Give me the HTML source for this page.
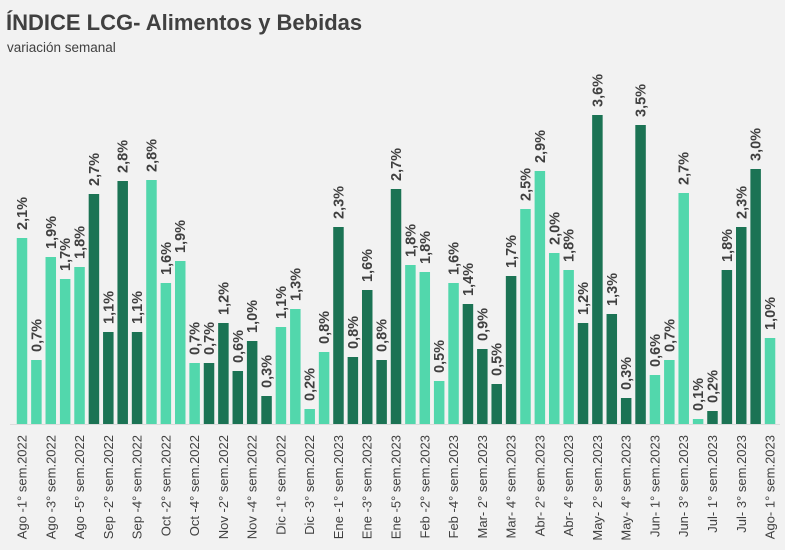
<!DOCTYPE html>
<html>
<head>
<meta charset="utf-8">
<style>
html,body{margin:0;padding:0;background:#f2f2f2;}
svg{display:block;}
</style>
</head>
<body>
<svg width="785" height="550" viewBox="0 0 785 550" xmlns="http://www.w3.org/2000/svg">
<rect x="0" y="0" width="785" height="550" fill="#f2f2f2"/>
<text x="6" y="30" font-family="Liberation Sans, sans-serif" font-weight="bold" font-size="22" fill="#404040">ÍNDICE LCG- Alimentos y Bebidas</text>
<text x="7" y="52" font-family="Liberation Sans, sans-serif" font-size="13.5" fill="#404040">variación semanal</text>
<line x1="10" y1="424.5" x2="780" y2="424.5" stroke="#dcdcdc" stroke-width="1"/>
<g>
<rect x="16.75" y="238" width="10.5" height="186" fill="#52d7ac"/>
<rect x="31.14" y="360" width="10.5" height="64" fill="#52d7ac"/>
<rect x="45.52" y="257" width="10.5" height="167" fill="#52d7ac"/>
<rect x="59.91" y="279" width="10.5" height="145" fill="#52d7ac"/>
<rect x="74.29" y="267" width="10.5" height="157" fill="#52d7ac"/>
<rect x="88.68" y="194" width="10.5" height="230" fill="#1b7354"/>
<rect x="103.06" y="332" width="10.5" height="92" fill="#1b7354"/>
<rect x="117.45" y="181" width="10.5" height="243" fill="#1b7354"/>
<rect x="131.83" y="332" width="10.5" height="92" fill="#1b7354"/>
<rect x="146.22" y="180" width="10.5" height="244" fill="#52d7ac"/>
<rect x="160.60" y="283" width="10.5" height="141" fill="#52d7ac"/>
<rect x="174.99" y="261" width="10.5" height="163" fill="#52d7ac"/>
<rect x="189.37" y="363" width="10.5" height="61" fill="#52d7ac"/>
<rect x="203.76" y="363" width="10.5" height="61" fill="#1b7354"/>
<rect x="218.14" y="323" width="10.5" height="101" fill="#1b7354"/>
<rect x="232.53" y="371" width="10.5" height="53" fill="#1b7354"/>
<rect x="246.91" y="341" width="10.5" height="83" fill="#1b7354"/>
<rect x="261.30" y="396" width="10.5" height="28" fill="#1b7354"/>
<rect x="275.68" y="327" width="10.5" height="97" fill="#52d7ac"/>
<rect x="290.07" y="309" width="10.5" height="115" fill="#52d7ac"/>
<rect x="304.45" y="409" width="10.5" height="15" fill="#52d7ac"/>
<rect x="318.84" y="352" width="10.5" height="72" fill="#52d7ac"/>
<rect x="333.22" y="227" width="10.5" height="197" fill="#1b7354"/>
<rect x="347.61" y="357" width="10.5" height="67" fill="#1b7354"/>
<rect x="361.99" y="290" width="10.5" height="134" fill="#1b7354"/>
<rect x="376.38" y="360" width="10.5" height="64" fill="#1b7354"/>
<rect x="390.76" y="189" width="10.5" height="235" fill="#1b7354"/>
<rect x="405.15" y="265" width="10.5" height="159" fill="#52d7ac"/>
<rect x="419.53" y="272" width="10.5" height="152" fill="#52d7ac"/>
<rect x="433.92" y="381" width="10.5" height="43" fill="#52d7ac"/>
<rect x="448.30" y="283" width="10.5" height="141" fill="#52d7ac"/>
<rect x="462.69" y="304" width="10.5" height="120" fill="#1b7354"/>
<rect x="477.07" y="349" width="10.5" height="75" fill="#1b7354"/>
<rect x="491.46" y="384" width="10.5" height="40" fill="#1b7354"/>
<rect x="505.84" y="276" width="10.5" height="148" fill="#1b7354"/>
<rect x="520.23" y="209" width="10.5" height="215" fill="#52d7ac"/>
<rect x="534.61" y="171" width="10.5" height="253" fill="#52d7ac"/>
<rect x="549.00" y="253" width="10.5" height="171" fill="#52d7ac"/>
<rect x="563.38" y="270" width="10.5" height="154" fill="#52d7ac"/>
<rect x="577.77" y="323" width="10.5" height="101" fill="#1b7354"/>
<rect x="592.15" y="115" width="10.5" height="309" fill="#1b7354"/>
<rect x="606.54" y="314" width="10.5" height="110" fill="#1b7354"/>
<rect x="620.92" y="398" width="10.5" height="26" fill="#1b7354"/>
<rect x="635.31" y="125" width="10.5" height="299" fill="#1b7354"/>
<rect x="649.69" y="375" width="10.5" height="49" fill="#52d7ac"/>
<rect x="664.08" y="360" width="10.5" height="64" fill="#52d7ac"/>
<rect x="678.46" y="193" width="10.5" height="231" fill="#52d7ac"/>
<rect x="692.85" y="419" width="10.5" height="5" fill="#52d7ac"/>
<rect x="707.23" y="411" width="10.5" height="13" fill="#1b7354"/>
<rect x="721.62" y="270" width="10.5" height="154" fill="#1b7354"/>
<rect x="736.00" y="227" width="10.5" height="197" fill="#1b7354"/>
<rect x="750.39" y="169" width="10.5" height="255" fill="#1b7354"/>
<rect x="764.77" y="338" width="10.5" height="86" fill="#52d7ac"/>
</g>
<g font-family="Liberation Sans, sans-serif" font-weight="bold" font-size="14.5" fill="#404040">
<text transform="translate(27.00,230) rotate(-90)">2,1%</text>
<text transform="translate(41.39,352) rotate(-90)">0,7%</text>
<text transform="translate(55.77,249) rotate(-90)">1,9%</text>
<text transform="translate(70.16,271) rotate(-90)">1,7%</text>
<text transform="translate(84.54,259) rotate(-90)">1,8%</text>
<text transform="translate(98.93,186) rotate(-90)">2,7%</text>
<text transform="translate(113.31,324) rotate(-90)">1,1%</text>
<text transform="translate(127.70,173) rotate(-90)">2,8%</text>
<text transform="translate(142.08,324) rotate(-90)">1,1%</text>
<text transform="translate(156.47,172) rotate(-90)">2,8%</text>
<text transform="translate(170.85,275) rotate(-90)">1,6%</text>
<text transform="translate(185.24,253) rotate(-90)">1,9%</text>
<text transform="translate(199.62,355) rotate(-90)">0,7%</text>
<text transform="translate(214.01,355) rotate(-90)">0,7%</text>
<text transform="translate(228.39,315) rotate(-90)">1,2%</text>
<text transform="translate(242.78,363) rotate(-90)">0,6%</text>
<text transform="translate(257.16,333) rotate(-90)">1,0%</text>
<text transform="translate(271.55,388) rotate(-90)">0,3%</text>
<text transform="translate(285.93,319) rotate(-90)">1,1%</text>
<text transform="translate(300.32,301) rotate(-90)">1,3%</text>
<text transform="translate(314.70,401) rotate(-90)">0,2%</text>
<text transform="translate(329.09,344) rotate(-90)">0,8%</text>
<text transform="translate(343.47,219) rotate(-90)">2,3%</text>
<text transform="translate(357.86,349) rotate(-90)">0,8%</text>
<text transform="translate(372.24,282) rotate(-90)">1,6%</text>
<text transform="translate(386.63,352) rotate(-90)">0,8%</text>
<text transform="translate(401.01,181) rotate(-90)">2,7%</text>
<text transform="translate(415.40,257) rotate(-90)">1,8%</text>
<text transform="translate(429.78,264) rotate(-90)">1,8%</text>
<text transform="translate(444.17,373) rotate(-90)">0,5%</text>
<text transform="translate(458.55,275) rotate(-90)">1,6%</text>
<text transform="translate(472.94,296) rotate(-90)">1,4%</text>
<text transform="translate(487.32,341) rotate(-90)">0,9%</text>
<text transform="translate(501.71,376) rotate(-90)">0,5%</text>
<text transform="translate(516.09,268) rotate(-90)">1,7%</text>
<text transform="translate(530.48,201) rotate(-90)">2,5%</text>
<text transform="translate(544.86,163) rotate(-90)">2,9%</text>
<text transform="translate(559.25,245) rotate(-90)">2,0%</text>
<text transform="translate(573.63,262) rotate(-90)">1,8%</text>
<text transform="translate(588.02,315) rotate(-90)">1,2%</text>
<text transform="translate(602.40,107) rotate(-90)">3,6%</text>
<text transform="translate(616.79,306) rotate(-90)">1,3%</text>
<text transform="translate(631.17,390) rotate(-90)">0,3%</text>
<text transform="translate(645.56,117) rotate(-90)">3,5%</text>
<text transform="translate(659.94,367) rotate(-90)">0,6%</text>
<text transform="translate(674.33,352) rotate(-90)">0,7%</text>
<text transform="translate(688.71,185) rotate(-90)">2,7%</text>
<text transform="translate(703.10,411) rotate(-90)">0,1%</text>
<text transform="translate(717.48,403) rotate(-90)">0,2%</text>
<text transform="translate(731.87,262) rotate(-90)">1,8%</text>
<text transform="translate(746.25,219) rotate(-90)">2,3%</text>
<text transform="translate(760.64,161) rotate(-90)">3,0%</text>
<text transform="translate(775.02,330) rotate(-90)">1,0%</text>
</g>
<g font-family="Liberation Sans, sans-serif" font-size="13" fill="#404040" text-anchor="end">
<text transform="translate(26.50,435) rotate(-90)">Ago -1° sem.2022</text>
<text transform="translate(55.27,435) rotate(-90)">Ago -3° sem.2022</text>
<text transform="translate(84.04,435) rotate(-90)">Ago -5° sem.2022</text>
<text transform="translate(112.81,435) rotate(-90)">Sep -2° sem.2022</text>
<text transform="translate(141.58,435) rotate(-90)">Sep -4° sem.2022</text>
<text transform="translate(170.35,435) rotate(-90)">Oct -2° sem.2022</text>
<text transform="translate(199.12,435) rotate(-90)">Oct -4° sem.2022</text>
<text transform="translate(227.89,435) rotate(-90)">Nov -2° sem.2022</text>
<text transform="translate(256.66,435) rotate(-90)">Nov -4° sem.2022</text>
<text transform="translate(285.43,435) rotate(-90)">Dic -1° sem.2022</text>
<text transform="translate(314.20,435) rotate(-90)">Dic -3° sem.2022</text>
<text transform="translate(342.97,435) rotate(-90)">Ene -1° sem.2023</text>
<text transform="translate(371.74,435) rotate(-90)">Ene -3° sem.2023</text>
<text transform="translate(400.51,435) rotate(-90)">Ene -5° sem.2023</text>
<text transform="translate(429.28,435) rotate(-90)">Feb -2° sem.2023</text>
<text transform="translate(458.05,435) rotate(-90)">Feb -4° sem.2023</text>
<text transform="translate(486.82,435) rotate(-90)">Mar- 2° sem.2023</text>
<text transform="translate(515.59,435) rotate(-90)">Mar- 4° sem.2023</text>
<text transform="translate(544.36,435) rotate(-90)">Abr- 2° sem.2023</text>
<text transform="translate(573.13,435) rotate(-90)">Abr- 4° sem.2023</text>
<text transform="translate(601.90,435) rotate(-90)">May- 2° sem.2023</text>
<text transform="translate(630.67,435) rotate(-90)">May- 4° sem.2023</text>
<text transform="translate(659.44,435) rotate(-90)">Jun- 1° sem.2023</text>
<text transform="translate(688.21,435) rotate(-90)">Jun- 3° sem.2023</text>
<text transform="translate(716.98,435) rotate(-90)">Jul- 1° sem.2023</text>
<text transform="translate(745.75,435) rotate(-90)">Jul- 3° sem.2023</text>
<text transform="translate(774.52,435) rotate(-90)">Ago- 1° sem.2023</text>
</g>
</svg>
</body>
</html>
